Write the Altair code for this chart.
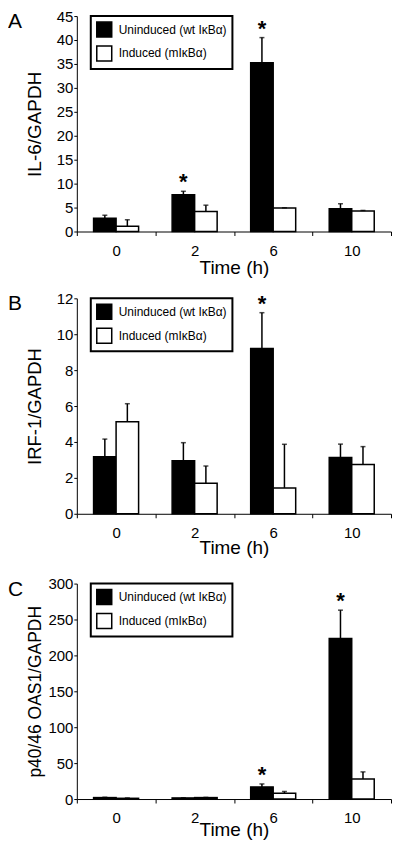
import altair as alt
import pandas as pd

times = ["0", "2", "6", "10"]
series = ["Uninduced (wt IκBα)", "Induced (mIκBα)"]

# Panel A: IL-6/GAPDH
a_unind = [2.75, 7.7, 35.25, 4.75]
a_unind_err = [0.65, 0.7, 5.25, 1.05]
a_ind = [1.1, 4.2, 4.9, 4.3]
a_ind_err = [1.35, 1.3, 0.05, 0.1]
a_stars = ["2", "6"]

# Panel B: IRF-1/GAPDH
b_unind = [3.18, 2.96, 9.2, 3.13]
b_unind_err = [0.98, 1.0, 2.0, 0.75]
b_ind = [5.13, 1.70, 1.44, 2.74]
b_ind_err = [1.0, 0.96, 2.43, 1.0]
b_stars = ["6"]

# Panel C: p40/46 OAS1/GAPDH
c_unind = [2.0, 1.5, 16.9, 223.5]
c_unind_err = [0.5, 0.3, 4.1, 39.5]
c_ind = [1.0, 2.0, 8.0, 28.0]
c_ind_err = [0.5, 0.3, 2.5, 9.8]
c_stars = ["6", "10"]

FONT = "Liberation Sans"
W = 315
H = 216


def frame(unind, unind_err, ind, ind_err):
    rows = []
    for i, t in enumerate(times):
        rows.append(dict(time=t, series=series[0], value=unind[i], top=unind[i] + unind_err[i]))
        rows.append(dict(time=t, series=series[1], value=ind[i], top=ind[i] + ind_err[i]))
    return pd.DataFrame(rows)


def panel(letter, ytitle, ymax, ystep, df, stars, ytitle_size, xtitle_y):
    x = alt.X(
        "time:N", sort=times,
        scale=alt.Scale(domain=times, paddingInner=0, paddingOuter=0),
        axis=alt.Axis(title="Time (h)", labelAngle=0, tickBand="extent", tickSize=4,
                      labelPadding=8, labelFontSize=15, titleFontSize=19, titleY=xtitle_y),
    )
    xo = alt.XOffset("series:N", sort=series,
                     scale=alt.Scale(domain=series, paddingInner=0, paddingOuter=0.745))
    yscale = alt.Scale(domain=[0, ymax], nice=False, zero=True)
    yaxis = alt.Axis(title=ytitle, values=list(range(0, ymax + 1, ystep)), tickSize=3,
                     labelPadding=1, labelFontSize=15, labelOverlap=False, titleX=-32,
                     titleY=H / 2, titleFontSize=ytitle_size)
    y_val = alt.Y("value:Q", scale=yscale, axis=yaxis)
    y_top = alt.Y("top:Q", scale=yscale, axis=yaxis)
    base = alt.Chart(df)
    bars = base.mark_bar(stroke="black", strokeWidth=1.5).encode(
        x=x, xOffset=xo, y=y_val,
        color=alt.Color(
            "series:N", sort=series,
            scale=alt.Scale(domain=series, range=["black", "white"]),
            legend=alt.Legend(
                title=None, orient="none", legendX=14, legendY=0, direction="vertical",
                symbolType="square", symbolSize=225, symbolStrokeColor="black",
                symbolStrokeWidth=1.5, symbolOpacity=1, labelFontSize=12, labelFont=FONT,
                labelColor="black", labelOffset=6, padding=5, rowPadding=3,
                strokeColor="black", fillColor="white", labelLimit=0,
            ),
        ),
    )
    rules = base.mark_rule(color="black", strokeWidth=1.5).encode(
        x=x, xOffset=xo, y=y_val, y2="top:Q"
    )
    caps = base.mark_tick(color="black", thickness=1.5, size=5, orient="horizontal").encode(
        x=x, xOffset=xo, y=y_top
    )
    star_df = df[(df.series == series[0]) & (df.time.isin(stars))]
    star = alt.Chart(star_df).mark_text(
        text="*", fontSize=22, fontWeight="bold", baseline="alphabetic", dy=-2,
        font=FONT, color="black"
    ).encode(x=x, xOffset=xo, y=y_top)
    lab = alt.Chart(pd.DataFrame({"t": [letter]})).mark_text(
        align="left", baseline="top", fontSize=21, font=FONT, color="black"
    ).encode(text="t:N", x=alt.value(-69), y=alt.value(-5))
    return alt.layer(bars, rules, caps, star, lab).properties(width=W, height=H)


pa = panel("A", "IL-6/GAPDH", 45, 5, frame(a_unind, a_unind_err, a_ind, a_ind_err), a_stars, 19, 27)
pb = panel("B", "IRF-1/GAPDH", 12, 2, frame(b_unind, b_unind_err, b_ind, b_ind_err), b_stars, 18.5, 25)
pc = panel("C", "p40/46 OAS1/GAPDH", 300, 50, frame(c_unind, c_unind_err, c_ind, c_ind_err), c_stars, 17.5, 22)

inner = alt.VConcatChart(vconcat=[pa, pb], spacing=67, bounds="flush").resolve_scale(
    y="independent", color="independent"
).resolve_legend(color="independent")

chart = alt.VConcatChart(vconcat=[inner, pc], spacing=569, bounds="flush").resolve_scale(
    y="independent", color="independent"
).resolve_legend(color="independent").properties(
    padding={"left": 0, "top": 0, "right": 0, "bottom": 0}
).configure_axis(
    labelFont=FONT, titleFont=FONT, labelColor="black", titleColor="black",
    domainColor="black", tickColor="black", titleFontWeight="normal", grid=False,
    domainWidth=1, tickWidth=1,
).configure_axisY(labelOverlap=False).configure_legend(strokeWidth=2).configure_view(stroke=None)

chart.save("out.html", embed_options={"renderer": "svg", "actions": False})
